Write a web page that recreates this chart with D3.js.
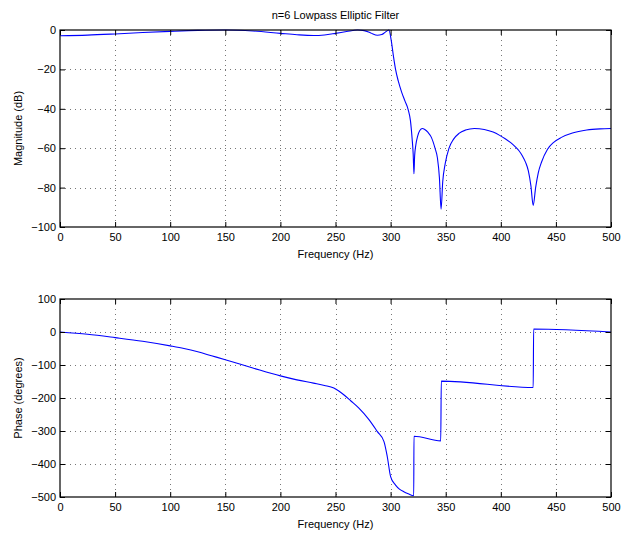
<!DOCTYPE html>
<html>
<head>
<meta charset="utf-8">
<script src="https://cdn.jsdelivr.net/npm/d3@7"></script>
<style>
  html, body { margin: 0; padding: 0; background: #fff; }
  svg { display: block; font-family: "Liberation Sans", Arial, Helvetica, sans-serif; }
  .tick text { font-size: 11px; fill: #000; }
</style>
</head>
<body>
<svg id="chart" width="622" height="534"></svg>
<script>
const titleText = "n=6 Lowpass Elliptic Filter";
const xLabel = "Frequency (Hz)";
const magLabel = "Magnitude (dB)";
const phaseLabel = "Phase (degrees)";

const xTicks = [0, 50, 100, 150, 200, 250, 300, 350, 400, 450, 500];
const magTicks = [-100, -80, -60, -40, -20, 0];
const phaseTicks = [-500, -400, -300, -200, -100, 0, 100];

const magFreq = [0, 25, 50, 75, 100, 125, 150, 175, 200, 215, 230, 240, 250, 260, 270, 276, 282, 288, 292, 295, 298.5,
  300.5, 302.5, 304.5, 307, 310, 313, 316, 318, 319.5, 320.5, 321.2, 321.8, 323, 324.5, 326.5, 328.8,
  331, 334, 337, 340.3, 342.5, 344.3, 345.8, 347.3, 349.5, 353, 357, 362, 368, 376,
  385, 393, 399, 404, 409, 413, 416.5, 419.5, 422.5, 425, 427.3, 429.4, 431.6, 434, 437, 442.4, 448, 455, 465, 478, 490, 500];
const magDb = [-2.9, -2.6, -2.0, -1.3, -0.7, -0.2, 0, -0.5, -1.7, -2.4, -2.8, -2.5, -1.7, -0.8, 0, -0.3, -1.5, -2.7, -2.3, -1.2, 0,
  -5, -13, -20, -26, -31.5, -36, -40.5, -46, -55, -63, -73, -64, -58, -54, -51, -50,
  -50.5, -52, -54.5, -60, -65, -75, -91, -77, -68, -60, -55.5, -52.5, -50.8, -50,
  -50.5, -51.8, -53.5, -55.2, -57.2, -59.2, -61.3, -63.8, -67.2, -71.5, -79, -89, -80, -72.5, -67, -60.5, -57, -54.5, -52.3, -50.8, -50.2, -50];

const phaseFreq = [0, 25, 50, 75, 100, 112.5, 125, 137.5, 150, 175, 200, 215, 230, 240, 248.5, 253, 257.5, 264, 271, 280, 288, 294, 297, 300, 304.5, 308, 312, 316, 321,
  321.2, 345.5, 346, 429.4, 429.8, 500];
const phaseDeg = [0, -7, -17, -28, -42, -50, -60, -72, -84, -109, -133, -145, -155, -162, -170, -179, -190, -209, -230, -264, -302, -332, -378, -438, -464, -476, -484, -490, -496,
  -316, -330, -149, -168, 9, 0];

const svg = d3.select("#chart");
const left = 60, right = 611;
const top1 = 30, bot1 = 227;
const top2 = 299, bot2 = 497;

const x = d3.scaleLinear().domain([0, 500]).range([left, right]);
const yMag = d3.scaleLinear().domain([-100, 0]).range([bot1, top1]);
const yPh = d3.scaleLinear().domain([-500, 100]).range([bot2, top2]);

function panel(y, yTicks, top, bot, freq, vals, ylab) {
  const g = svg.append("g");
  // grid
  g.append("g").selectAll("line").data(xTicks.slice(1, -1)).join("line")
    .attr("x1", d => Math.round(x(d)) + 0.5).attr("x2", d => Math.round(x(d)) + 0.5)
    .attr("y1", top).attr("y2", bot)
    .attr("stroke", "#777").attr("stroke-width", 1).attr("stroke-dasharray", "1,4");
  g.append("g").selectAll("line").data(yTicks.slice(1, -1)).join("line")
    .attr("y1", d => Math.round(y(d)) + 0.5).attr("y2", d => Math.round(y(d)) + 0.5)
    .attr("x1", left).attr("x2", right)
    .attr("stroke", "#777").attr("stroke-width", 1).attr("stroke-dasharray", "1,4");

  // line
  const line = d3.line().x((d, i) => x(freq[i])).y(d => y(d)).curve(d3.curveMonotoneX);
  g.append("path").datum(vals).attr("d", line)
    .attr("fill", "none").attr("stroke", "#0000ff").attr("stroke-width", 1.1)
    .attr("stroke-linejoin", "round");

  // axes
  const ab = g.append("g").attr("transform", `translate(0,${bot})`)
    .call(d3.axisBottom(x).tickValues(xTicks).tickSizeInner(-5).tickSizeOuter(0).tickPadding(5).tickFormat(d3.format("d")));
  const at = g.append("g").attr("transform", `translate(0,${top})`)
    .call(d3.axisTop(x).tickValues(xTicks).tickSizeInner(-5).tickSizeOuter(0).tickFormat(""));
  const al = g.append("g").attr("transform", `translate(${left},0)`)
    .call(d3.axisLeft(y).tickValues(yTicks).tickSizeInner(-5).tickSizeOuter(0).tickPadding(4).tickFormat(d3.format("d")));
  const ar = g.append("g").attr("transform", `translate(${right},0)`)
    .call(d3.axisRight(y).tickValues(yTicks).tickSizeInner(-5).tickSizeOuter(0).tickFormat(""));
  [ab, at, al, ar].forEach(a => {
    a.select(".domain").remove();
    a.selectAll(".tick line").attr("stroke", "#000");
    a.selectAll(".tick text").attr("font-family", "Liberation Sans, Arial, sans-serif").attr("font-size", 11);
  });
  ab.selectAll(".tick text").attr("dy", "0.85em");

  // frame
  g.append("rect").attr("x", left).attr("y", top).attr("width", right - left).attr("height", bot - top)
    .attr("fill", "none").attr("stroke", "#000").attr("stroke-width", 1.2);

  // labels
  g.append("text").attr("x", (left + right) / 2).attr("y", bot + 31)
    .attr("text-anchor", "middle").attr("font-size", 11).text(xLabel);
  g.append("text").attr("transform", `translate(22,${(top + bot) / 2}) rotate(-90)`)
    .attr("text-anchor", "middle").attr("font-size", 11).text(ylab);
}

panel(yMag, magTicks, top1, bot1, magFreq, magDb, magLabel);
panel(yPh, phaseTicks, top2, bot2, phaseFreq, phaseDeg, phaseLabel);

svg.append("text").attr("x", (left + right) / 2).attr("y", 19)
  .attr("text-anchor", "middle").attr("font-size", 11).text(titleText);
</script>
</body>
</html>
